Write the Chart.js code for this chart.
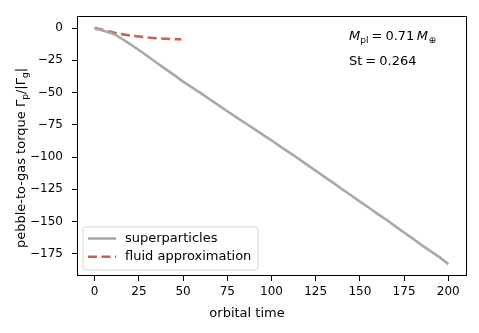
<!DOCTYPE html>
<html>
<head>
<meta charset="utf-8">
<script src="https://cdn.jsdelivr.net/npm/chart.js@4/dist/chart.umd.min.js"></script>
<style>
  html, body { margin: 0; padding: 0; background: #ffffff; }
  canvas { display: block; }
</style>
</head>
<body>
<canvas id="c" width="479" height="333"></canvas>
<script>
// ---- data ----
const superTime = [0, 2, 4, 6, 8, 10, 12, 15, 20, 25, 30, 35, 40, 45, 50, 55, 60, 65, 70, 75, 80, 85, 90, 95, 100,
  105, 110, 115, 120, 125, 130, 135, 140, 145, 150, 155, 160, 165, 170, 175, 180, 185, 190, 195, 198, 200];
const superTorque = [-0.4, -1.0, -1.7, -2.5, -3.4, -4.3, -5.5, -7.9, -12.4, -17.0, -21.8, -26.9, -31.6, -36.5, -41.5,
  -46.0, -50.4, -55.2, -59.7, -64.5, -69.0, -73.6, -77.9, -82.6, -87.0, -91.9, -96.4, -101.0, -105.9, -110.5,
  -115.4, -120.0, -124.9, -129.6, -134.5, -139.1, -144.0, -148.6, -153.5, -158.5, -163.2, -168.3, -172.9,
  -177.6, -180.8, -183.0];
const fluidTime = [0, 2, 4, 6, 8, 10, 13, 16, 20, 25, 30, 35, 40, 45, 49];
const fluidTorque = [0.3, -0.5, -1.2, -1.9, -2.6, -3.2, -4.2, -4.9, -5.7, -6.6, -7.3, -7.9, -8.3, -8.6, -8.8];
const xTicks = [0, 25, 50, 75, 100, 125, 150, 175, 200];
const yTicks = [0, -25, -50, -75, -100, -125, -150, -175];
const seriesNames = ['superparticles', 'fluid approximation'];
const xLabel = 'orbital time';

const FONT = '"DejaVu Sans", sans-serif';
const GRAY = '#a9a9a9';
const RED = '#cd5c5c';
const LBL = 13;

function pts(xs, ys) { return xs.map((x, i) => ({ x: x, y: ys[i] })); }
function fmt(v) { return v < 0 ? '\u2212' + Math.abs(v) : String(v); }

// draw a run of text pieces (normal / italic / subscript)
function drawRuns(ctx, runs, x, y, size) {
  let cx = x;
  for (const r of runs) {
    const s = r.sub ? size * 0.7 : size;
    ctx.font = (r.it ? 'italic ' : '') + s + 'px ' + FONT;
    const dy = r.sub ? size * 0.2 : 0;
    ctx.fillText(r.t, cx, y + dy);
    cx += ctx.measureText(r.t).width + (r.sp || 0);
  }
  return cx - x;
}
function measureRuns(ctx, runs, size) {
  let w = 0;
  for (const r of runs) {
    const s = r.sub ? size * 0.7 : size;
    ctx.font = (r.it ? 'italic ' : '') + s + 'px ' + FONT;
    w += ctx.measureText(r.t).width + (r.sp || 0);
  }
  return w;
}

const decor = {
  id: 'decor',
  afterDraw(chart) {
    const ctx = chart.ctx;
    const a = chart.chartArea;
    ctx.save();
    // frame
    ctx.strokeStyle = '#000';
    ctx.lineWidth = 1;
    ctx.strokeRect(Math.round(a.left) + 0.5, Math.round(a.top) + 0.5,
      Math.round(a.right - a.left) - 1, Math.round(a.bottom - a.top) - 1);

    ctx.fillStyle = '#000';
    ctx.textBaseline = 'alphabetic';
    ctx.textAlign = 'left';

    // annotations
    drawRuns(ctx, [{ t: 'M', it: true }, { t: 'pl', sub: true, sp: 3 }, { t: '=', sp: 3 }, { t: '0.71', sp: 2.5 }, { t: 'M', it: true, sp: 0.5 }, { t: '\u2295', sub: true }], 349, 40, LBL);
    drawRuns(ctx, [{ t: 'St', sp: 3 }, { t: '=', sp: 3 }, { t: '0.264' }], 349, 65, LBL);

    // x label
    ctx.font = LBL + 'px ' + FONT;
    ctx.textAlign = 'center';
    ctx.fillText(xLabel, 247, 317);

    // y label (rotated)
    ctx.textAlign = 'left';
    const yRuns = [{ t: 'pebble-to-gas torque \u0393' }, { t: 'p', sub: true }, { t: '/|\u0393' }, { t: 'g', sub: true }, { t: '|' }];
    const w = measureRuns(ctx, yRuns, LBL);
    ctx.save();
    ctx.translate(25, 158);
    ctx.rotate(-Math.PI / 2);
    drawRuns(ctx, yRuns, -w / 2, 0, LBL);
    ctx.restore();

    // legend
    const lx = 83, ly = 227, lw = 175, lh = 43, r = 3;
    ctx.beginPath();
    ctx.moveTo(lx + r, ly);
    ctx.lineTo(lx + lw - r, ly);
    ctx.quadraticCurveTo(lx + lw, ly, lx + lw, ly + r);
    ctx.lineTo(lx + lw, ly + lh - r);
    ctx.quadraticCurveTo(lx + lw, ly + lh, lx + lw - r, ly + lh);
    ctx.lineTo(lx + r, ly + lh);
    ctx.quadraticCurveTo(lx, ly + lh, lx, ly + lh - r);
    ctx.lineTo(lx, ly + r);
    ctx.quadraticCurveTo(lx, ly, lx + r, ly);
    ctx.closePath();
    ctx.fillStyle = 'rgba(255,255,255,0.8)';
    ctx.fill();
    ctx.strokeStyle = '#d6d6d6';
    ctx.lineWidth = 1;
    ctx.stroke();

    const rowY = [238.5, 256.7];
    const cols = [GRAY, RED];
    const dashes = [[], [9, 4.5]];
    for (let i = 0; i < 2; i++) {
      ctx.beginPath();
      ctx.setLineDash(dashes[i]);
      ctx.strokeStyle = cols[i];
      ctx.lineWidth = 2.6;
      ctx.moveTo(88, rowY[i]);
      ctx.lineTo(116, rowY[i]);
      ctx.stroke();
      ctx.setLineDash([]);
      ctx.fillStyle = '#000';
      ctx.font = LBL + 'px ' + FONT;
      ctx.textBaseline = 'middle';
      ctx.fillText(seriesNames[i], 125, rowY[i]);
    }
    ctx.restore();
  }
};

new Chart(document.getElementById('c'), {
  type: 'line',
  data: {
    datasets: [
      {
        label: seriesNames[0],
        data: pts(superTime, superTorque),
        borderColor: GRAY,
        borderWidth: 2.6,
        pointRadius: 0,
        tension: 0,
        fill: false
      },
      {
        label: seriesNames[1],
        data: pts(fluidTime, fluidTorque),
        borderColor: RED,
        borderWidth: 2.6,
        borderDash: [9, 4.5],
        pointRadius: 0,
        tension: 0.3,
        fill: false
      }
    ]
  },
  options: {
    responsive: false,
    animation: false,
    devicePixelRatio: 1,
    layout: { padding: { left: 0, top: 13, right: 12, bottom: 0 } },
    plugins: { legend: { display: false }, tooltip: { enabled: false } },
    scales: {
      x: {
        type: 'linear',
        min: -10,
        max: 210.6,
        afterBuildTicks: s => { s.ticks = xTicks.map(v => ({ value: v })); },
        afterFit: s => { s.height = 57; },
        grid: { display: true, drawOnChartArea: false, tickLength: 5, color: '#000', tickWidth: 1 },
        border: { display: false },
        ticks: { color: '#000', font: { family: FONT, size: 12 }, padding: 4, maxRotation: 0, autoSkip: false, callback: v => fmt(v) }
      },
      y: {
        type: 'linear',
        min: -192.2,
        max: 9.2,
        afterBuildTicks: s => { s.ticks = yTicks.map(v => ({ value: v })); },
        afterFit: s => { s.width = 77; },
        grid: { display: true, drawOnChartArea: false, tickLength: 5, color: '#000', tickWidth: 1 },
        border: { display: false },
        ticks: { color: '#000', font: { family: FONT, size: 12 }, padding: 9, autoSkip: false, callback: v => fmt(v) }
      }
    }
  },
  plugins: [decor]
});
</script>
</body>
</html>
